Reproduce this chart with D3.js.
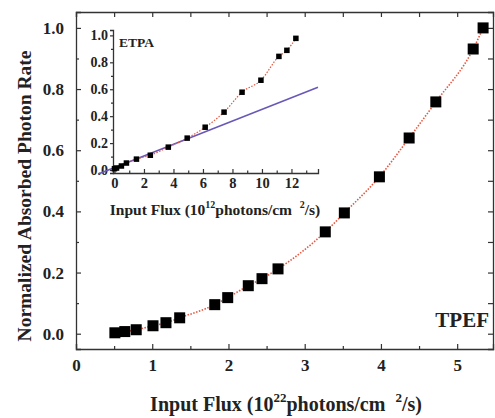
<!DOCTYPE html>
<html>
<head>
<meta charset="utf-8">
<script src="https://cdn.jsdelivr.net/npm/d3@7"></script>
<style>
body { margin: 0; background: #fff; }
text { font-family: "Liberation Serif", "DejaVu Serif", serif; fill: #222; }
</style>
</head>
<body>
<div id="chart"></div>
<script>
// main TPEF data (10^22 photons/cm^2/s vs normalized rate)
var tpefX = [0.51, 0.64, 0.79, 1.01, 1.18, 1.36, 1.82, 1.99, 2.26, 2.44, 2.65, 3.27, 3.52, 3.98, 4.37, 4.72, 5.21, 5.34];
var tpefY = [0.003, 0.007, 0.013, 0.026, 0.036, 0.052, 0.095, 0.118, 0.157, 0.180, 0.212, 0.333, 0.395, 0.513, 0.640, 0.758, 0.931, 1.0];

// inset ETPA data (10^12 photons/cm^2/s)
var etpaX = [0.0, 0.14, 0.47, 0.81, 1.49, 2.43, 3.65, 4.93, 6.15, 7.43, 8.65, 9.93, 11.15, 11.69, 12.3];
var etpaY = [0.01, 0.015, 0.03, 0.052, 0.081, 0.11, 0.17, 0.237, 0.318, 0.43, 0.578, 0.667, 0.844, 0.889, 0.978];

// linear fit in inset
var linX = [-1.1, 13.8];
var linY = [-0.03, 0.615];

var mainXTicks = [0, 1, 2, 3, 4, 5];
var mainYTicks = [0, 0.2, 0.4, 0.6, 0.8, 1.0];
var insetXTicks = [0, 2, 4, 6, 8, 10, 12];
var insetYTicks = [0, 0.2, 0.4, 0.6, 0.8, 1.0];

var W = 495, H = 418;
var margin = {top: 12, right: 2, bottom: 69, left: 76};
var width = W - margin.left - margin.right;
var height = H - margin.top - margin.bottom;

var svg = d3.select("#chart").append("svg")
    .attr("width", W)
    .attr("height", H);

var g = svg.append("g")
    .attr("transform", "translate(" + margin.left + "," + margin.top + ")");

var x = d3.scaleLinear().domain([0, 5.47]).range([0, width]);
var y = d3.scaleLinear().domain([-0.05, 1.052]).range([height, 0]);

var axisColor = "#333";

function styleAxis(sel) {
    sel.selectAll("path").attr("stroke", axisColor).attr("stroke-width", 1.3);
    sel.selectAll("line").attr("stroke", axisColor).attr("stroke-width", 1.2);
}

// minor ticks
var xMinor = d3.range(0.5, 5.47, 1);
var yMinor = d3.range(-0.1, 1.05, 0.2).filter(function (d) { return d > -0.05; });

// bottom
var xb = g.append("g").attr("transform", "translate(0," + height + ")")
    .call(d3.axisBottom(x).tickValues(mainXTicks).tickSize(-5).tickPadding(10).tickFormat(d3.format("d")));
xb.selectAll("text").attr("font-size", 17).attr("font-weight", "bold").attr("fill", "#333");
styleAxis(xb);
g.append("g").attr("transform", "translate(0," + height + ")")
    .call(d3.axisBottom(x).tickValues(xMinor).tickSize(-3).tickFormat(""))
    .call(function (s) { s.select("path").remove(); styleAxis(s); });

// top
var xt = g.append("g").call(d3.axisTop(x).tickValues(mainXTicks.concat(xMinor)).tickSize(-5).tickFormat(""));
styleAxis(xt);

// left
var yl = g.append("g").call(d3.axisLeft(y).tickValues(mainYTicks).tickSize(-5).tickPadding(12).tickFormat(d3.format(".1f")));
yl.selectAll("text").attr("font-size", 17).attr("font-weight", "bold").attr("fill", "#333");
styleAxis(yl);
g.append("g").call(d3.axisLeft(y).tickValues(yMinor).tickSize(-3).tickFormat(""))
    .call(function (s) { s.select("path").remove(); styleAxis(s); });

// right
var yr = g.append("g").attr("transform", "translate(" + width + ",0)")
    .call(d3.axisRight(y).tickValues(mainYTicks.concat(yMinor)).tickSize(-5).tickFormat(""));
styleAxis(yr);

// fit curve + points
var tpef = tpefX.map(function (d, i) { return [d, tpefY[i]]; });
var line = d3.line()
    .x(function (d) { return x(d[0]); })
    .y(function (d) { return y(d[1]); })
    .curve(d3.curveMonotoneX);

g.append("path").datum(tpef)
    .attr("d", line)
    .attr("fill", "none")
    .attr("stroke", "#e8573f")
    .attr("stroke-width", 1.6)
    .attr("stroke-dasharray", "1.5,1.5");

var s1 = 11;
g.selectAll(".sq").data(tpef).enter().append("rect")
    .attr("x", function (d) { return x(d[0]) - s1 / 2; })
    .attr("y", function (d) { return y(d[1]) - s1 / 2; })
    .attr("width", s1).attr("height", s1)
    .attr("fill", "#000");

g.append("text").attr("x", width - 4).attr("y", 327 - margin.top)
    .attr("text-anchor", "end").attr("font-size", 21).attr("font-weight", "bold")
    .text("TPEF");

// axis titles
svg.append("text")
    .attr("transform", "translate(31," + 196 + ") rotate(-90)")
    .attr("text-anchor", "middle").attr("font-size", 19.5).attr("font-weight", "bold")
    .text("Normalized Absorbed Photon Rate");

var xl = svg.append("text").attr("x", 286).attr("y", 411)
    .attr("text-anchor", "middle").attr("font-size", 20).attr("font-weight", "bold");
xl.append("tspan").text("Input Flux (10");
xl.append("tspan").attr("font-size", 13).attr("dy", -9).text("22");
xl.append("tspan").attr("dy", 9).text("photons/cm\u2002");
xl.append("tspan").attr("font-size", 13).attr("dy", -9).text("2");
xl.append("tspan").attr("dy", 9).text("/s)");

// ===== inset =====
var ix = d3.scaleLinear().domain([-0.1, 13.8]).range([113, 318]);
var iy = d3.scaleLinear().domain([-0.022, 1.04]).range([173, 30]);

var ig = svg.append("g");
var ixa = ig.append("g").attr("transform", "translate(0,173)")
    .call(d3.axisBottom(ix).tickValues(insetXTicks).tickSize(-4).tickPadding(5).tickFormat(d3.format("d")));
ixa.selectAll("text").attr("font-size", 14.5).attr("font-weight", "bold").attr("fill", "#333");
styleAxis(ixa);
ig.append("g").attr("transform", "translate(0,173)")
    .call(d3.axisBottom(ix).tickValues(d3.range(1, 13.8, 2)).tickSize(-2.5).tickFormat(""))
    .call(function (s) { s.select("path").remove(); styleAxis(s); });

var iya = ig.append("g").attr("transform", "translate(113,0)")
    .call(d3.axisLeft(iy).tickValues(insetYTicks).tickSize(3).tickPadding(2).tickFormat(d3.format(".1f")));
iya.selectAll("text").attr("font-size", 14).attr("font-weight", "bold").attr("fill", "#333");
styleAxis(iya);
ig.append("g").attr("transform", "translate(113,0)")
    .call(d3.axisLeft(iy).tickValues(d3.range(0.1, 1.0, 0.2)).tickSize(2).tickFormat(""))
    .call(function (s) { s.select("path").remove(); styleAxis(s); });

var lin = linX.map(function (d, i) { return [d, linY[i]]; });
ig.append("path").datum(lin)
    .attr("d", d3.line().x(function (d) { return ix(d[0]); }).y(function (d) { return iy(d[1]); }))
    .attr("fill", "none").attr("stroke", "#6a58b8").attr("stroke-width", 1.6);

var etpa = etpaX.map(function (d, i) { return [d, etpaY[i]]; });
ig.append("path").datum(etpa)
    .attr("d", d3.line().x(function (d) { return ix(d[0]); }).y(function (d) { return iy(d[1]); }).curve(d3.curveMonotoneX))
    .attr("fill", "none").attr("stroke", "#e8573f").attr("stroke-width", 1.2)
    .attr("stroke-dasharray", "1.5,1.5");

var s2 = 5.5;
ig.selectAll(".isq").data(etpa).enter().append("rect")
    .attr("x", function (d) { return ix(d[0]) - s2 / 2; })
    .attr("y", function (d) { return iy(d[1]) - s2 / 2; })
    .attr("width", s2).attr("height", s2)
    .attr("fill", "#000");

ig.append("text").attr("x", 119).attr("y", 47)
    .attr("font-size", 13.5).attr("font-weight", "bold").text("ETPA");

var il = ig.append("text").attr("x", 215).attr("y", 215)
    .attr("text-anchor", "middle").attr("font-size", 15.5).attr("font-weight", "bold");
il.append("tspan").text("Input Flux (10");
il.append("tspan").attr("font-size", 10).attr("dy", -7).text("12");
il.append("tspan").attr("dy", 7).text("photons/cm\u2002");
il.append("tspan").attr("font-size", 10).attr("dy", -7).text("2");
il.append("tspan").attr("dy", 7).text("/s)");
</script>
</body>
</html>
